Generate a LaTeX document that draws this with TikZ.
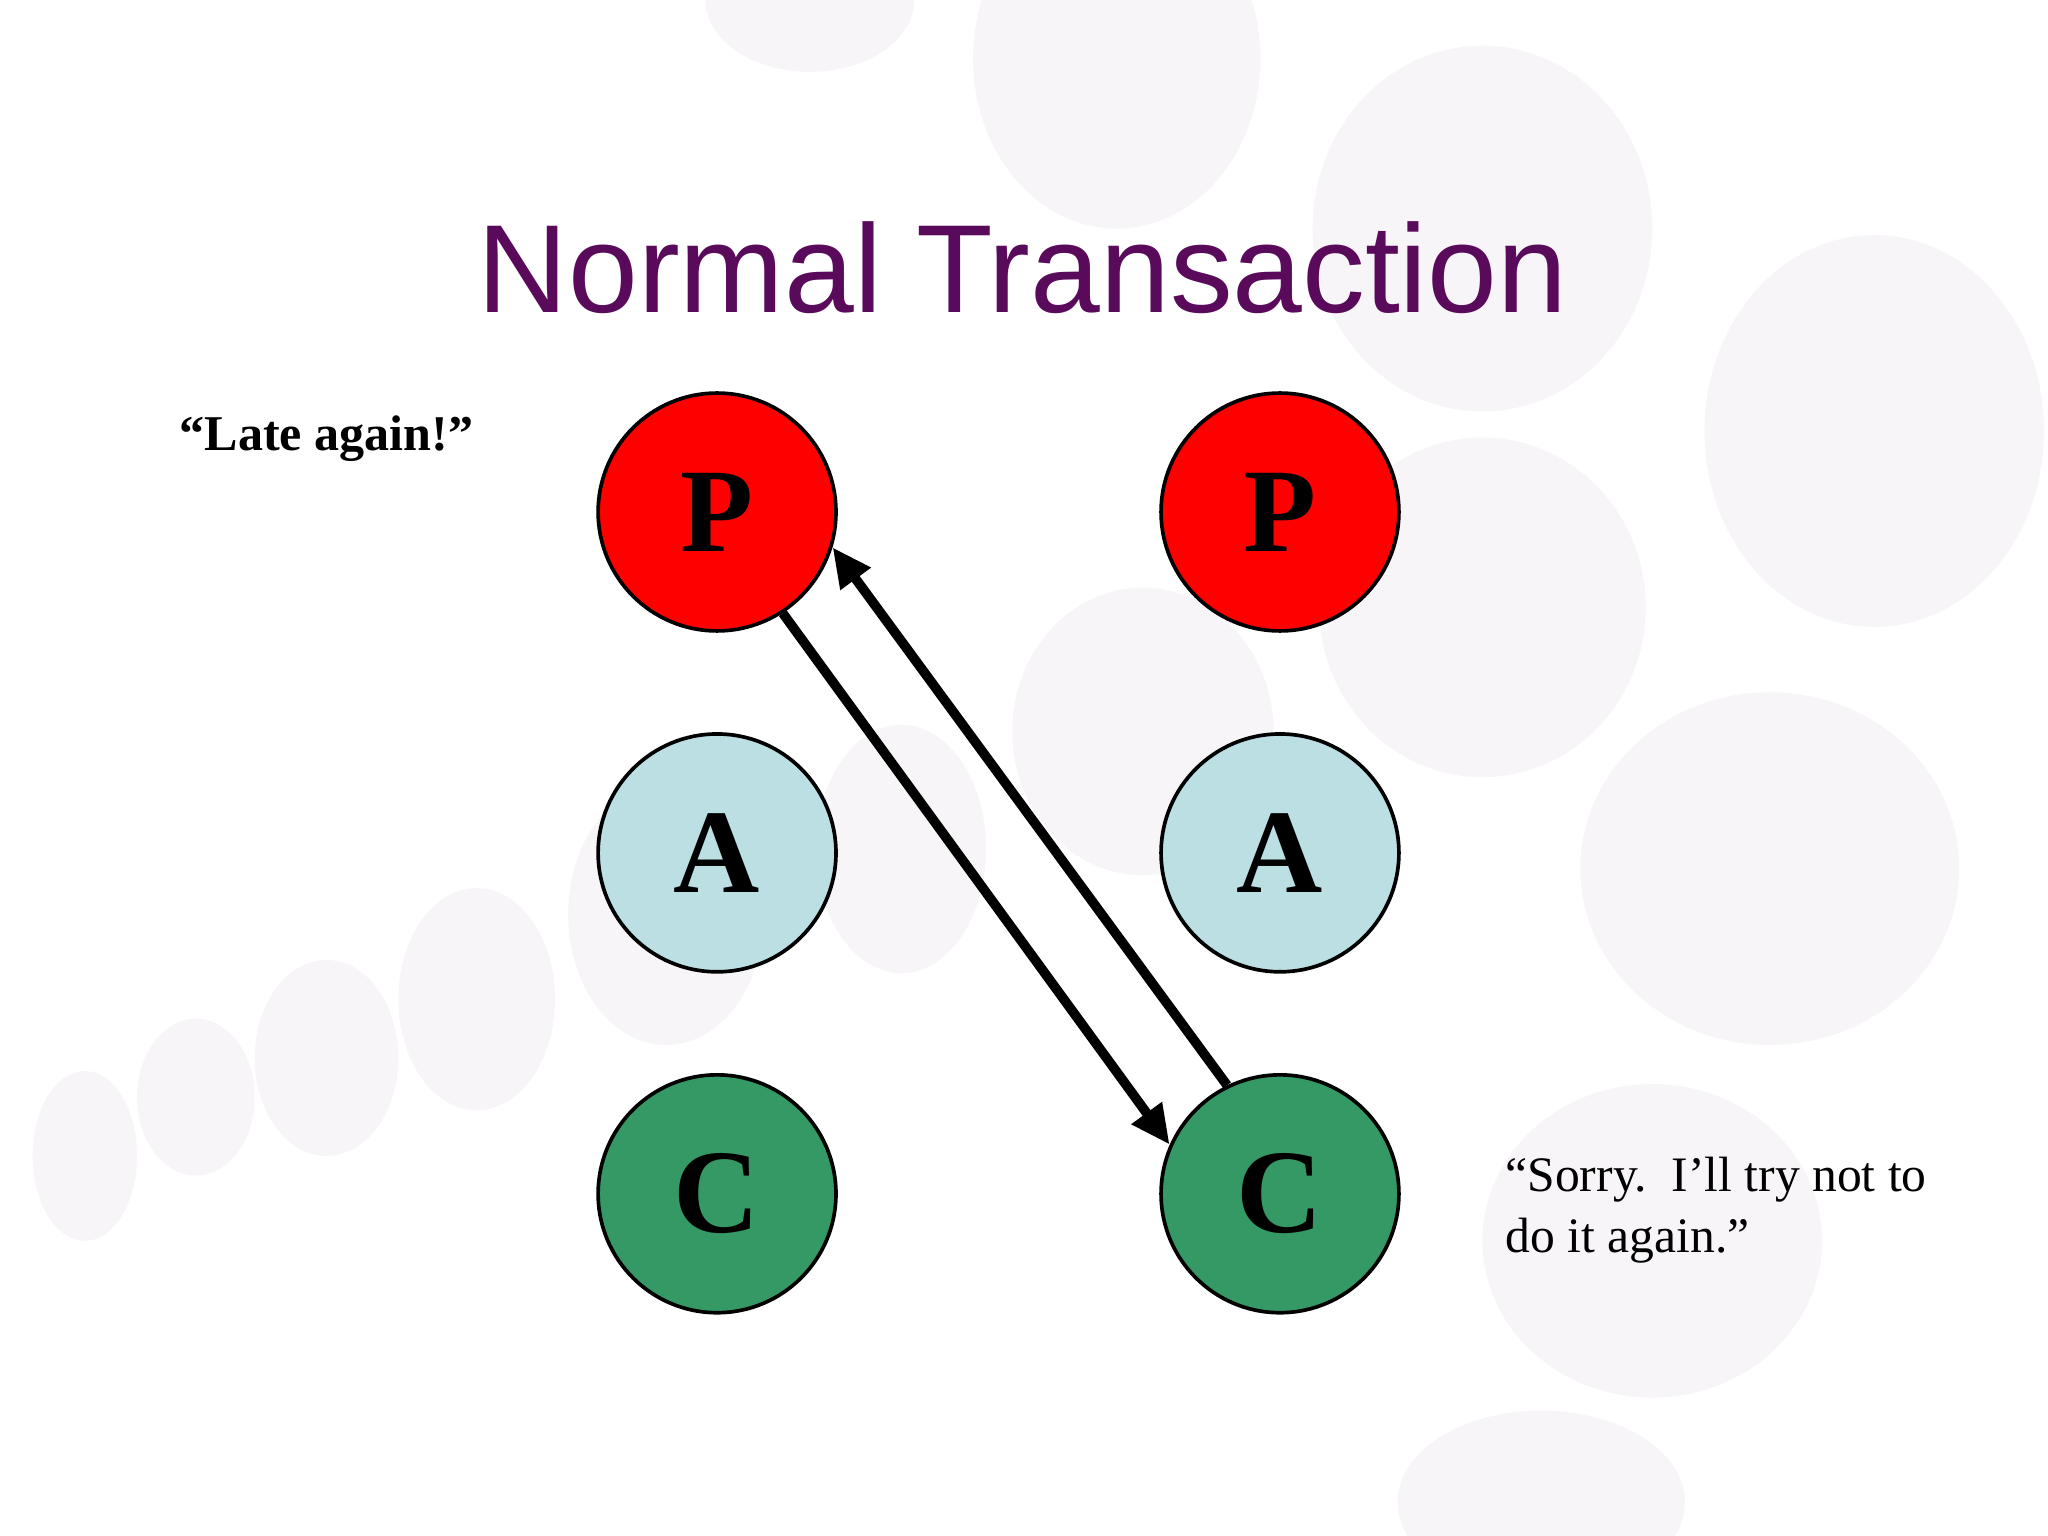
\documentclass[tikz,border=0pt]{standalone}
\usepackage{fontspec}
\setmainfont{Liberation Serif}
\newfontfamily\titlefont{Liberation Sans}
\usetikzlibrary{arrows.meta}
\definecolor{ttl}{HTML}{5A0A5A}
\definecolor{pred}{HTML}{FF0000}
\definecolor{ablue}{HTML}{BBDFE3}
\definecolor{cgreen}{HTML}{359966}
\definecolor{bgc}{HTML}{F7F5F8}
\tikzset{
 ball/.style={circle,draw=black,line width=0.8pt,minimum size=1.82cm,inner sep=0pt,font=\bfseries\fontsize{26}{26}\selectfont},
 bub/.style={fill=bgc},
 arr/.style={line width=2.1pt,-{Triangle[length=0.3cm,width=0.27cm]}}
}
\begin{document}
\begin{tikzpicture}[x=0.01cm,y=-0.01cm]
\useasboundingbox (0,0) rectangle (1568,1176);
\fill[white] (0,0) rectangle (1568,1176);
\fill[bub] (855,45) ellipse (110 and 130);
\fill[bub] (620,0) ellipse (80 and 55);
\fill[bub] (1135,175) ellipse (130 and 140);
\fill[bub] (1435,330) ellipse (130 and 150);
\fill[bub] (1135,465) ellipse (125 and 130);
\fill[bub] (875,560) ellipse (100 and 110);
\fill[bub] (1355,665) ellipse (145 and 135);
\fill[bub] (1265,950) ellipse (130 and 120);
\fill[bub] (1180,1150) ellipse (110 and 70);
\fill[bub] (690,650) ellipse (65 and 95);
\fill[bub] (510,700) ellipse (75 and 100);
\fill[bub] (365,765) ellipse (60 and 85);
\fill[bub] (250,810) ellipse (55 and 75);
\fill[bub] (150,840) ellipse (45 and 60);
\fill[bub] (65,885) ellipse (40 and 65);
\node[font=\titlefont\fontsize{27.3}{27.3}\selectfont,text=ttl] (title) at (783,205) {Normal Transaction};
\node[ball,fill=pred] (P1) at (549,392) {P};
\node[ball,fill=pred] (P2) at (980,392) {P};
\node[ball,fill=ablue] (A1) at (549,653) {A};
\node[ball,fill=ablue] (A2) at (980,653) {A};
\node[ball,fill=cgreen] (C1) at (549,914) {C};
\node[ball,fill=cgreen] (C2) at (980,914) {C};
\node[font=\bfseries\fontsize{10.9}{13}\selectfont,anchor=west,inner sep=0pt] (late) at (137,336) {“Late again!”};
\node[font=\fontsize{10.8}{13.4}\selectfont,anchor=north west,align=left,inner sep=0pt] (sorry) at (1152,885) {“Sorry.\ \ I’ll try not to\\do it again.”};
\draw[arr] (P1.-57.5) -- (C2.156);
\draw[arr] (C2.116) -- (P1.-17);
\end{tikzpicture}
\end{document}
